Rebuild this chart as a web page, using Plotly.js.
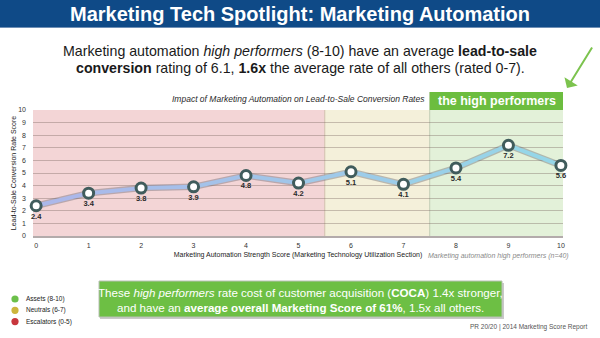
<!DOCTYPE html>
<html>
<head>
<meta charset="utf-8">
<script src="https://cdn.plot.ly/plotly-3.0.1.min.js"></script>
<style>
  html, body { margin: 0; padding: 0; background: #ffffff; }
  #chart { width: 600px; height: 338px; }
</style>
</head>
<body>
<div id="chart"></div>
<script>
// ---- data ----
const strengthScores = [0, 1, 2, 3, 4, 5, 6, 7, 8, 9, 10];
const conversionRates = [2.4, 3.4, 3.8, 3.9, 4.8, 4.2, 5.1, 4.1, 5.4, 7.2, 5.6];
const valueLabels = ["2.4", "3.4", "3.8", "3.9", "4.8", "4.2", "5.1", "4.1", "5.4", "7.2", "5.6"];
const yTickValues = [0, 1, 2, 3, 4, 5, 6, 7, 8, 9, 10];
const legendNames = ["Assets (8-10)", "Neutrals (6-7)", "Escalators (0-5)"];
const legendColors = ["#6cc04a", "#cdb53c", "#c8363d"];

// ---- pixel helpers (plot area: x 33..563, y 110..236) ----
const L = 33, R = 563, T = 110, B = 236, W = 600, H = 338;
const px = p => (p - L) / (R - L);
const py = p => (B - p) / (B - T);
const FONT = "Liberation Sans, Arial, Helvetica, sans-serif";

// ---- traces ----
const traces = [];
// shadow under line
traces.push({
  x: strengthScores, y: conversionRates, mode: "lines", hoverinfo: "skip",
  line: { color: "rgba(105,105,115,0.42)", width: 6.5 }, showlegend: false
});
// gradient line built from segments
const c0 = [172, 182, 234], c1 = [148, 216, 232];
for (let i = 0; i < strengthScores.length - 1; i++) {
  const t = (i + 0.5) / (strengthScores.length - 1);
  const c = c0.map((v, k) => Math.round(v + (c1[k] - v) * t));
  traces.push({
    x: [strengthScores[i], strengthScores[i + 1]],
    y: [conversionRates[i], conversionRates[i + 1]],
    mode: "lines", hoverinfo: "skip", showlegend: false,
    line: { color: `rgb(${c[0]},${c[1]},${c[2]})`, width: 4 }
  });
}
// markers + value labels
traces.push({
  x: strengthScores, y: conversionRates, mode: "markers+text",
  text: valueLabels, textposition: "bottom center",
  textfont: { family: FONT, size: 7.5, color: "#2a2a2a", weight: "bold" },
  marker: { size: 10, color: "#ffffff", line: { color: "#405c5c", width: 3 } },
  showlegend: false, cliponaxis: false
});

// ---- shapes ----
const shapes = [
  // title bar
  { type: "rect", xref: "paper", yref: "paper", x0: px(0), x1: px(600), y0: py(27), y1: py(0),
    fillcolor: "#0f4a87", line: { width: 0 }, layer: "below" },
  { type: "line", xref: "paper", yref: "paper", x0: px(0), x1: px(600), y0: py(27.5), y1: py(27.5),
    line: { color: "#6f8fb5", width: 1 }, layer: "below" },
  // background bands
  { type: "rect", xref: "x", yref: "paper", x0: -0.06, x1: 5.5, y0: 0, y1: 1,
    fillcolor: "#f3d5d6", line: { width: 0 }, layer: "below" },
  { type: "rect", xref: "x", yref: "paper", x0: 5.5, x1: 7.5, y0: 0, y1: 1,
    fillcolor: "#f4f0da", line: { width: 0 }, layer: "below" },
  { type: "rect", xref: "x", yref: "paper", x0: 7.5, x1: 10.04, y0: 0, y1: 1,
    fillcolor: "#e3f1d9", line: { width: 0 }, layer: "below" },
  { type: "line", xref: "x", yref: "paper", x0: 5.5, x1: 5.5, y0: 0, y1: 1,
    line: { color: "rgba(200,180,160,0.8)", width: 1 }, layer: "below" },
  { type: "line", xref: "x", yref: "paper", x0: 7.5, x1: 7.5, y0: 0, y1: py(92),
    line: { color: "rgba(190,200,175,0.9)", width: 1 }, layer: "below" },
  // high performers header
  { type: "rect", xref: "x", yref: "paper", x0: 7.5, x1: 10.04, y0: 1, y1: py(92),
    fillcolor: "#6cbd3f", line: { width: 0 } },
  // bottom green box shadow + box
  { type: "rect", xref: "paper", yref: "paper", x0: px(100), x1: px(504), y0: py(319), y1: py(283),
    fillcolor: "#c9c9c9", line: { width: 0 } },
  { type: "rect", xref: "paper", yref: "paper", x0: px(99), x1: px(502), y0: py(317), y1: py(281),
    fillcolor: "#6dbf44", line: { color: "#b9c0b5", width: 1 } }
];
// legend dots
legendColors.forEach((col, i) => {
  const cy = 299 + i * 11.3;
  shapes.push({ type: "circle", xref: "paper", yref: "paper",
    xsizemode: "pixel", ysizemode: "pixel", xanchor: px(15), yanchor: py(cy),
    x0: -3.6, x1: 3.6, y0: -3.6, y1: 3.6, fillcolor: col, line: { width: 0 } });
});

// ---- annotations ----
const ann = (x, y, text, font, extra) => Object.assign({
  xref: "paper", yref: "paper", x: px(x), y: py(y), text: text, showarrow: false,
  xanchor: "center", yanchor: "middle", font: font
}, extra || {});

const annotations = [
  ann(300, 51, "Marketing automation <i>high performers</i> (8-10) have an average <b>lead-to-sale</b>",
    { family: FONT, size: 14.2, color: "#1a1a1a" }),
  ann(300, 68, "<b>conversion</b> rating of 6.1, <b>1.6x</b> the average rate of all others (rated 0-7).",
    { family: FONT, size: 14.2, color: "#1a1a1a" }),
  ann(298, 99, "<i>Impact of Marketing Automation on Lead-to-Sale Conversion Rates</i>",
    { family: FONT, size: 8.5, color: "#2a2a2a" }),
  ann(497, 101, "<b>the high performers</b>", { family: FONT, size: 12.5, color: "#ffffff" }),
  ann(498, 256, "<i>Marketing automation high performers (n=40)</i>",
    { family: FONT, size: 7, color: "#8a8a8a" }),
  ann(300, 292.5, "These <i>high performers</i> rate cost of customer acquisition (<b>COCA</b>) 1.4x stronger,",
    { family: FONT, size: 11.6, color: "#ffffff" }),
  ann(300, 307.5, "and have an <b>average overall Marketing Score of 61%</b>, 1.5x all others.",
    { family: FONT, size: 11.6, color: "#ffffff" }),
  ann(590, 327, "PR 20/20 | 2014 Marketing Score Report",
    { family: FONT, size: 6.5, color: "#555555" }, { xanchor: "right" }),
  // arrow
  { xref: "paper", yref: "paper", x: px(567), y: py(88), text: "", showarrow: true,
    axref: "pixel", ayref: "pixel", ax: 26, ay: -42,
    arrowhead: 1, arrowsize: 1.3, arrowwidth: 2, arrowcolor: "#7cc34e" }
];
legendNames.forEach((name, i) => {
  annotations.push(ann(23.5, 299 + i * 11.3, name,
    { family: FONT, size: 6.5, color: "#222222" }, { xanchor: "left" }));
});

const layout = {
  width: W, height: H,
  margin: { l: L, r: W - R, t: T, b: H - B, pad: 0 },
  paper_bgcolor: "#ffffff", plot_bgcolor: "rgba(0,0,0,0)",
  showlegend: false,
  title: {
    text: "<b>Marketing Tech Spotlight: Marketing Automation</b>",
    x: 0.5, xanchor: "center", y: 1 - 14 / H, yanchor: "middle", yref: "container",
    font: { family: FONT, size: 20, color: "#ffffff" }
  },
  xaxis: {
    range: [-0.06, 10.04], tickvals: strengthScores, fixedrange: true,
    showgrid: false, zeroline: false,
    showline: true, linecolor: "#b3abab", linewidth: 2,
    ticks: "", ticklabelstandoff: 2,
    tickfont: { family: FONT, size: 7, color: "#333333" },
    title: { text: "Marketing Automation Strength Score (Marketing Technology Utilization Section)",
      standoff: 4, font: { family: FONT, size: 7, color: "#222222" } }
  },
  yaxis: {
    range: [0, 10], tickvals: yTickValues, fixedrange: true,
    showgrid: true, gridcolor: "rgba(120,100,95,0.38)", gridwidth: 1,
    zeroline: false, showline: false,
    ticks: "", ticklabelstandoff: 6,
    tickfont: { family: FONT, size: 7, color: "#333333" },
    title: { text: "Lead-to-Sale Conversion Rate Score", standoff: 0,
      font: { family: FONT, size: 7, color: "#222222" } }
  },
  shapes: shapes,
  annotations: annotations
};

Plotly.newPlot("chart", traces, layout, { displayModeBar: false, staticPlot: true });
</script>
</body>
</html>
